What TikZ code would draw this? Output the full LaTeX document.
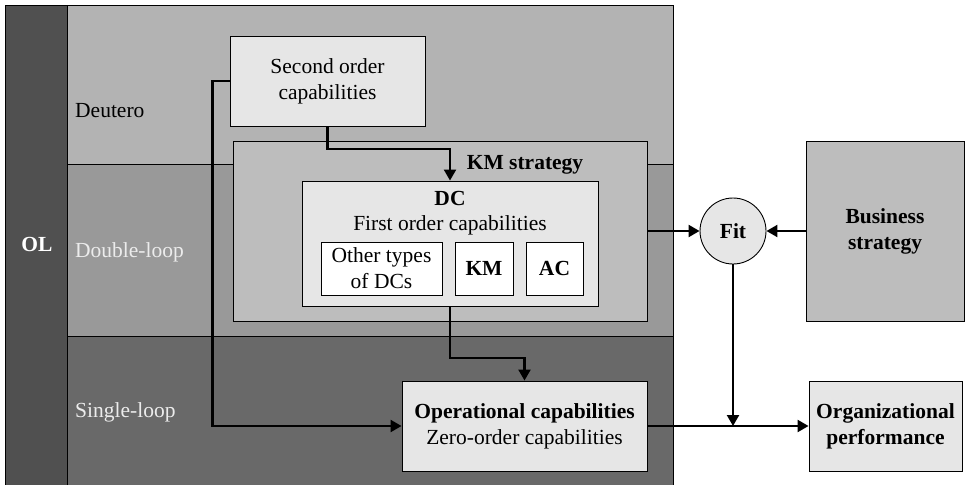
\documentclass[tikz,border=0pt]{standalone}
\usepackage{fontspec}
\setmainfont{Liberation Serif}
\definecolor{olgray}{RGB}{80,80,80}
\definecolor{deutgray}{RGB}{179,179,179}
\definecolor{dloopgray}{RGB}{153,153,153}
\definecolor{sloopgray}{RGB}{105,105,105}
\definecolor{kmgray}{RGB}{189,189,189}
\definecolor{boxgray}{RGB}{230,230,230}
\definecolor{lighttext}{RGB}{236,236,236}
\usetikzlibrary{shapes,arrows.meta,positioning,calc}

\begin{document}
\begin{tikzpicture}[x=1pt, y=-1pt,
    every node/.style={font=\fontsize{21.5}{26}\selectfont},
    band/.style={draw, line width=0.9pt},
    capbox/.style={draw, line width=0.9pt, fill=boxgray, align=center, inner sep=0pt},
    boldtext/.style={font=\fontsize{21.5}{26}\selectfont\bfseries},
    conn/.style={line width=2.2pt, -{Triangle[length=11pt,width=12pt]}}]
    \clip (0,0) rectangle (965,484);
    \fill[white] (0,0) rectangle (965,484);

    % Bands
    \draw[band, fill=olgray] (5,5) rectangle (67,495);
    \draw[band, fill=deutgray] (67,5) rectangle (673,164);
    \draw[band, fill=dloopgray] (67,164) rectangle (673,336);
    \draw[band, fill=sloopgray] (67,336) rectangle (673,495);
    \node[boldtext, text=white] (ol) at (37,244) {OL};
    \node[anchor=west, inner sep=0pt] (deutero) at (75,111) {Deutero};
    \node[anchor=west, inner sep=0pt, text=lighttext] (dloop) at (75,252) {Double-loop};
    \node[anchor=west, inner sep=0pt, text=lighttext] (sloop) at (75,412) {Single-loop};

    % Capabilities
    \node[capbox, minimum width=195, minimum height=90] (second) at (327.5,81) {Second order\\capabilities};
    \node[capbox, fill=kmgray, minimum width=414, minimum height=180] (kmstrat) at (440,231) {};
    \node[boldtext] (kmlabel) at (525,165) {KM strategy};
    \node[capbox, minimum width=296, minimum height=125] (dc) at (450,243.5) {};
    \node[boldtext] (dctitle) at (450,198) {DC};
    \node (dcsub) at (450,225) {First order capabilities};
    \node[capbox, fill=white, minimum width=121, minimum height=53] (other) at (381.5,268.5) {Other types\\of DCs};
    \node[capbox, boldtext, fill=white, minimum width=58, minimum height=53] (km) at (484,268.5) {KM};
    \node[capbox, boldtext, fill=white, minimum width=57, minimum height=53] (ac) at (554.5,268.5) {AC};
    \node[capbox, minimum width=245, minimum height=90] (oper) at (524.5,426) {\textbf{Operational capabilities}\\Zero-order capabilities};

    % Strategy and performance
    \node[capbox, boldtext, circle, minimum size=66] (fit) at (733,231) {Fit};
    \node[capbox, boldtext, fill=kmgray, minimum width=158, minimum height=180] (bus) at (885,231) {Business\\strategy};
    \node[capbox, boldtext, minimum width=153, minimum height=90] (org) at (885.5,426) {Organizational\\performance};

    % Connectors
    \coordinate (j1) at (327.5,149);
    \coordinate (j2) at (450,358);
    \draw[conn] (second.south) -- (j1) -| (dc.north);
    \draw[conn] (second.west) -- ++(-17,0) |- (oper.west);
    \draw[conn] (dc.south) -- (j2) -| (oper.north);
    \draw[conn] (kmstrat.east) -- (fit.west);
    \draw[conn] (bus.west) -- (fit.east);
    \draw[conn] (oper.east) -- (org.west);
    \draw[conn] (fit.south) -- (fit.south |- oper.east);
\end{tikzpicture}
\end{document}
